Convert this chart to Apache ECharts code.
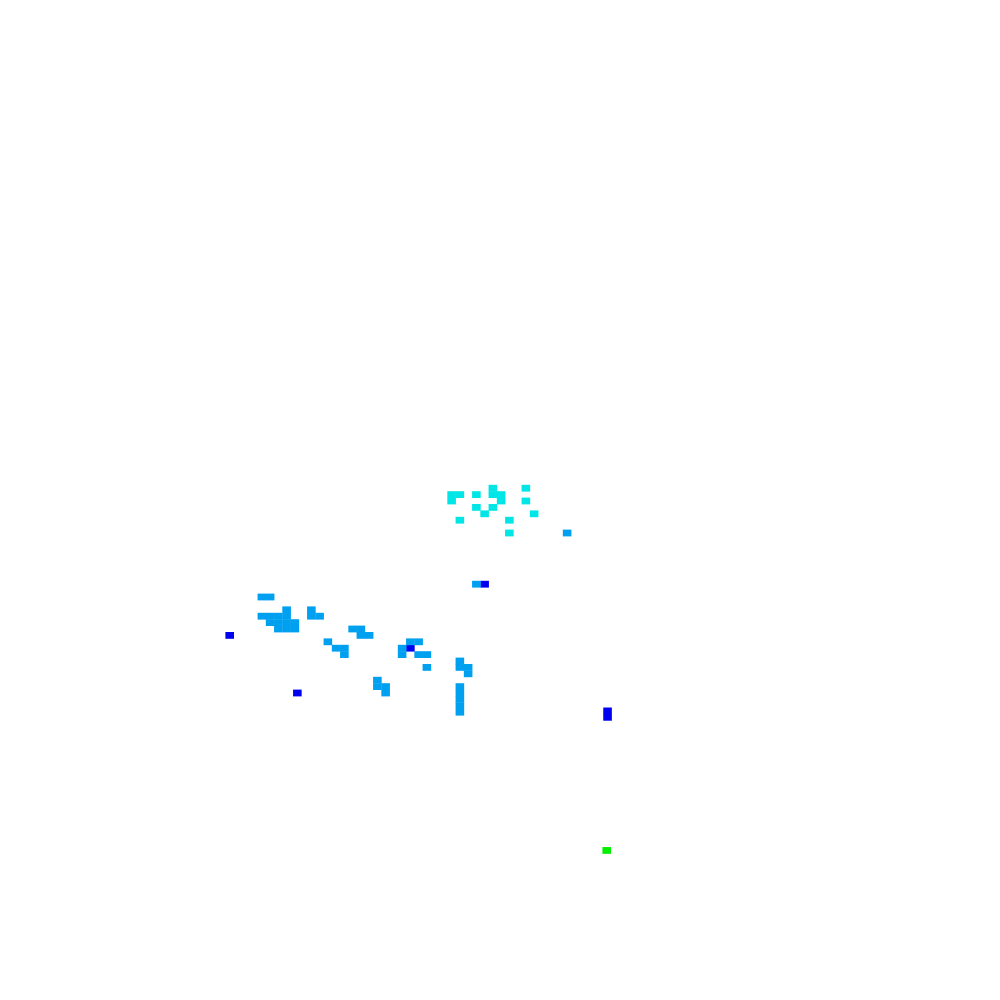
<!DOCTYPE html>
<html>
<head>
<meta charset="utf-8">
<script src="https://cdn.jsdelivr.net/npm/echarts@6/dist/echarts.min.js"></script>
<style>html,body{margin:0;padding:0;background:#fff}#main{width:1000px;height:1000px}</style>
</head>
<body>
<div id="main"></div>
<script>
// Grid cell columns / rows and level (1 = blue, 2 = light blue, 3 = cyan, 4 = green)
const cyanCells = [
  [5,0],[9,0],
  [0,1],[1,1],[3,1],[5,1],[6,1],
  [0,2],[6,2],[9,2],
  [3,3],[5,3],
  [4,4],[10,4],
  [1,5],[7,5],
  [7,7]
];
const lightBlueCells = [
  [14,7],[3,15],
  [-23,17],[-22,17],
  [-20,19],[-17,19],
  [-23,20],[-22,20],[-21,20],[-20,20],[-17,20],[-16,20],
  [-22,21],[-21,21],[-20,21],[-19,21],
  [-21,22],[-20,22],[-19,22],[-12,22],[-11,22],
  [-11,23],[-10,23],
  [-15,24],[-5,24],[-4,24],
  [-14,25],[-13,25],[-6,25],
  [-13,26],[-6,26],[-4,26],[-3,26],
  [1,27],
  [-3,28],[1,28],[2,28],
  [2,29],
  [-9,30],
  [-9,31],[-8,31],[1,31],
  [-8,32],[1,32],
  [1,33],[1,34],[1,35]
];
const blueCells = [
  [-26.9,23],[-18.7,32],[-5,25],[4,15],[18.9,34.8],[18.9,35.8]
];
const greenCells = [
  [18.8,56.6]
];

const data = [];
blueCells.forEach(c => data.push([c[0], c[1], 1]));
lightBlueCells.forEach(c => data.push([c[0], c[1], 2]));
cyanCells.forEach(c => data.push([c[0], c[1], 3]));
greenCells.forEach(c => data.push([c[0], c[1], 4]));

const chart = echarts.init(document.getElementById('main'), null, {renderer: 'canvas'});
chart.setOption({
  animation: false,
  backgroundColor: '#ffffff',
  grid: {left: 6.125, right: 3.875, top: 1.8, bottom: 6.2, containLabel: false},
  xAxis: {type: 'value', min: -54, max: 66, show: false},
  yAxis: {type: 'value', min: -76, max: 79, inverse: true, show: false},
  visualMap: {
    show: false,
    type: 'piecewise',
    dimension: 2,
    pieces: [
      {value: 1, color: '#0000f0'},
      {value: 2, color: '#00a0f0'},
      {value: 3, color: '#00e6e6'},
      {value: 4, color: '#00f000'}
    ]
  },
  series: [{
    type: 'scatter',
    symbol: 'rect',
    symbolSize: [8.6, 6.8],
    data: data,
    itemStyle: {opacity: 1}
  }]
});
</script>
</body>
</html>
